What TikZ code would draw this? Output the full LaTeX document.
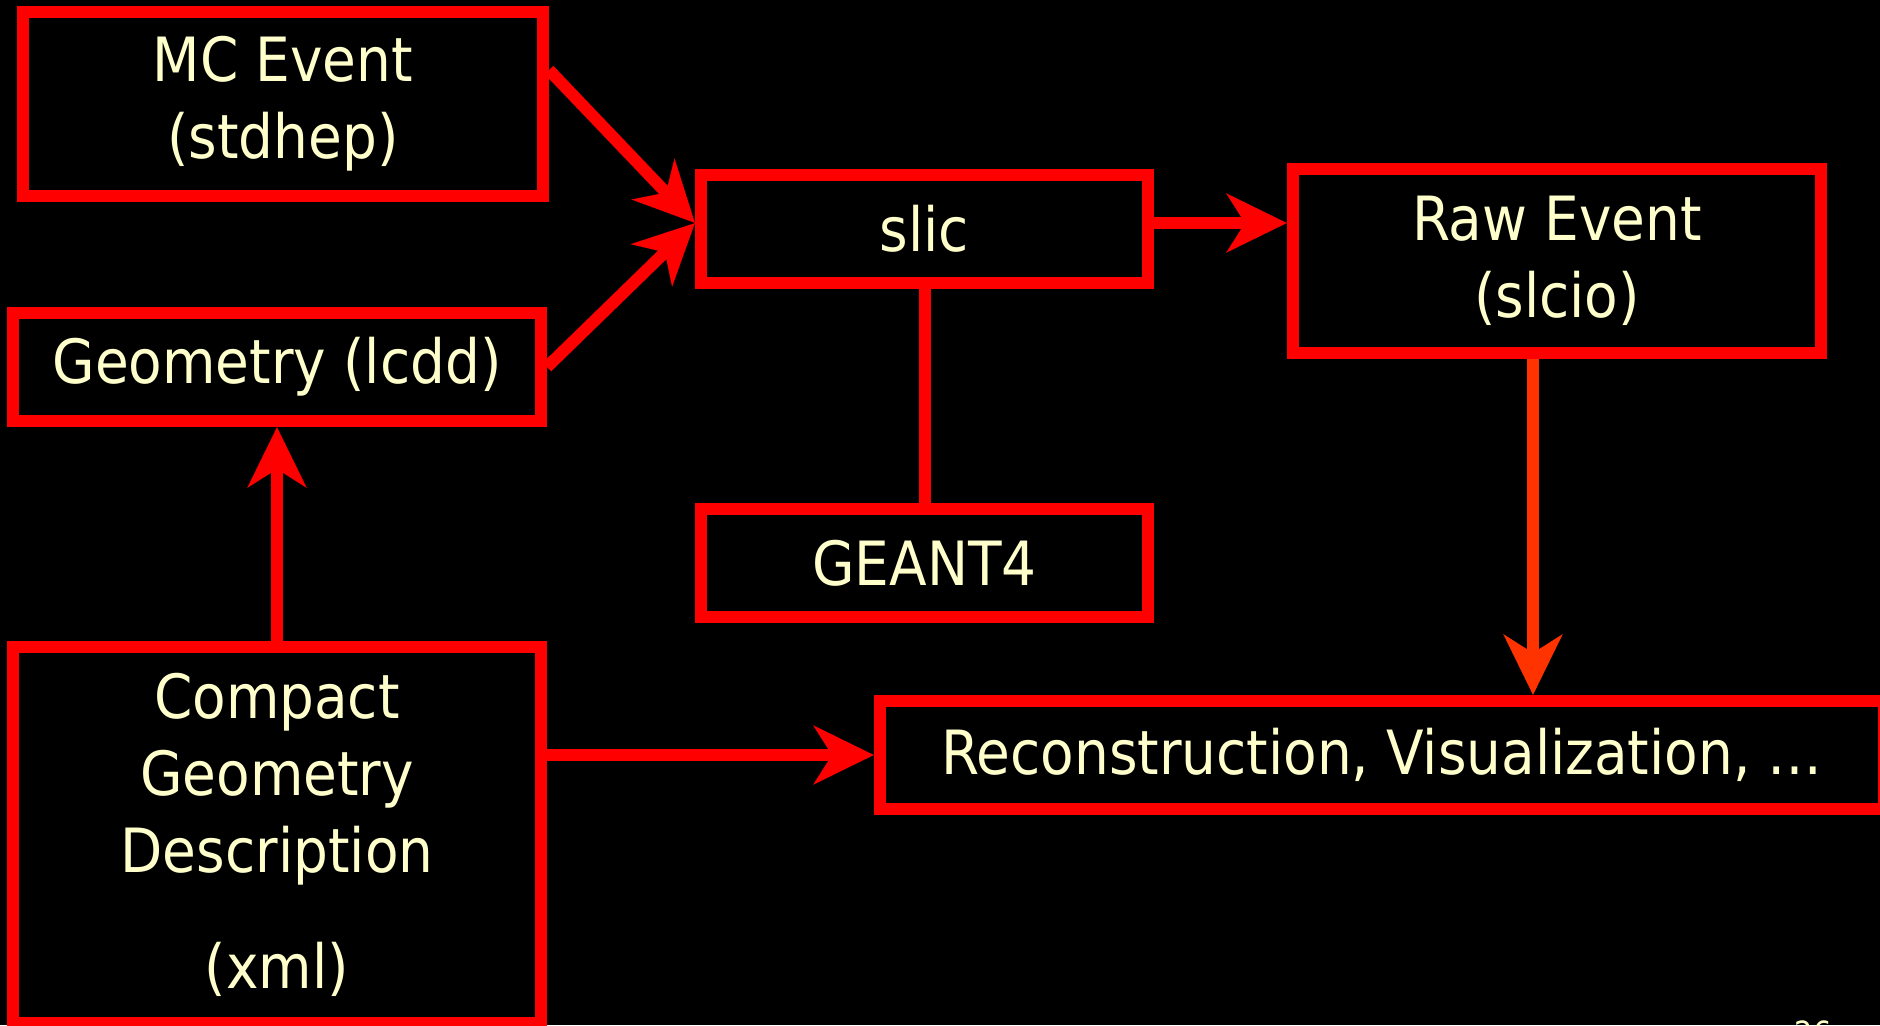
\documentclass[tikz,border=0pt]{standalone}
\usepackage{fontspec}
\setmainfont{DejaVu Sans Condensed}
\usetikzlibrary{arrows.meta}
\definecolor{boxred}{HTML}{FF0000}
\definecolor{droporange}{HTML}{FF3300}
\definecolor{cream}{HTML}{FFFFCC}

\begin{document}
\begin{tikzpicture}[x=0.5pt,y=-0.5pt,
  box/.style={draw=boxred,line width=6pt,text=cream,align=center,inner sep=0pt,
    font=\fontsize{30.5pt}{38.5pt}\selectfont},
  flow/.style={draw=boxred,line width=6pt,-{Stealth[length=30pt,width=29pt,inset=9pt]}}]
\fill[black] (0,0) rectangle (1880,1025);
\useasboundingbox (0,0) rectangle (1880,1025);
\node[box,minimum width=260pt,minimum height=92pt] (mc) at (283,104) {MC Event\\(stdhep)};
\node[box,minimum width=264pt,minimum height=54pt] (geom) at (277,367) {Geometry (lcdd)};
\node[box,minimum width=264pt,minimum height=188pt] (compact) at (277,835) {Compact\\Geometry\\Description\\[19.5pt](xml)};
\node[box,minimum width=223.5pt,minimum height=54pt] (slic) at (924.5,229) {slic};
\node[box,minimum width=223.5pt,minimum height=54pt] (geant) at (924.5,563) {GEANT4};
\node[box,minimum width=264pt,minimum height=92pt] (raw) at (1557,261) {Raw Event\\(slcio)};
\node[box,minimum width=502pt,minimum height=54pt] (reco) at (1382,755) {Reconstruction, Visualization, \dots};
\node[text=cream,inner sep=0pt,anchor=north,font=\fontsize{16pt}{19pt}\selectfont] (pagenum) at (1813,1020) {26};
\coordinate (drop) at ([xshift=-12pt]raw.south);
\draw[flow] ([yshift=17pt]mc.east) -- ([yshift=3pt]slic.west);
\draw[flow] (geom.east) -- ([yshift=3pt]slic.west);
\draw[flow] ([yshift=3pt]slic.east) -- ([yshift=3pt]slic.east -| raw.west);
\draw[boxred,line width=6pt] (slic) -- (geant);
\draw[flow] (compact) -- (geom);
\draw[flow] (reco.west -| compact.east) -- (reco.west);
\draw[flow,draw=droporange] (drop) -- (drop |- reco.north);
\end{tikzpicture}
\end{document}
